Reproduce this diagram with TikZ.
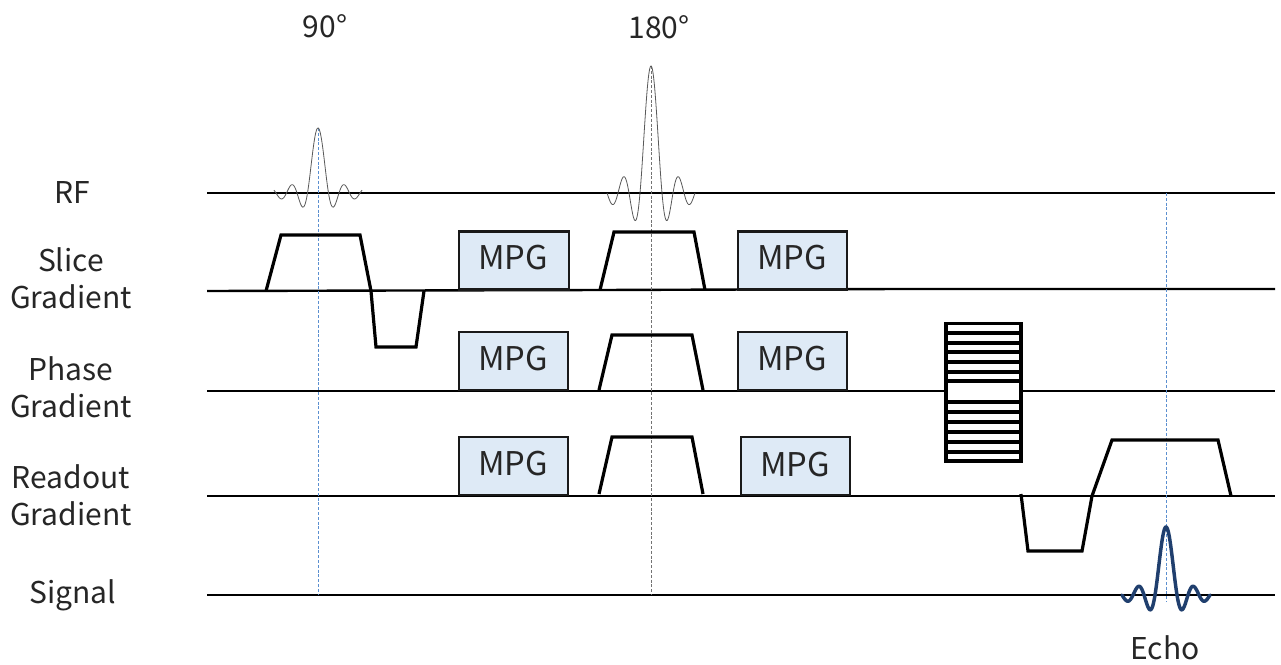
\documentclass[tikz,border=0pt]{standalone}
\usepackage{fontspec}
\setmainfont{Noto Sans CJK JP}
\begin{document}
\begin{tikzpicture}[x=0.75pt,y=-0.75pt,
  base/.style={line width=1.8pt,black},
  grad/.style={line width=2.4pt,black,line join=miter},
  mpgbox/.style={draw=black!90,line width=1.7pt,fill=mpgblue,minimum width=82pt,minimum height=43.5pt,inner sep=0pt},
  mpgtext/.style={font=\fontsize{24.5}{26}\selectfont,inner sep=0pt,text=black!85},
  lab/.style={font=\fontsize{22.5}{24}\selectfont,inner sep=0pt,text=black!85},
  cen/.style={line width=0.6pt,dash pattern=on 2.2pt off 1.4pt},
  rfwave/.style={line width=0.6pt,black!65},
  ladder/.style={line width=2.4pt,black}]
\definecolor{mpgblue}{HTML}{DEEAF6}
\definecolor{cenblue}{HTML}{5B8FD0}
\definecolor{echoblue}{HTML}{203F6E}
\useasboundingbox (0,0) rectangle (1281,664);
\fill[white] (0,0) rectangle (1281,664);

% baselines
\draw[base] (207,193) -- (1275,193);
\draw[base] (207,291) -- (600,290) -- (898,289) -- (1275,289);
\draw[base] (207,391) -- (1275,391);
\draw[base] (207,496) -- (1275,496);
\draw[base] (207,595) -- (1275,595);

% centre lines
\draw[cen,cenblue] (318,128) -- (318,595);
\draw[cen,black!55] (651,66) -- (651,595);
\draw[cen,cenblue] (1166,193) -- (1166,602);

% RF pulses and echo
\draw[rfwave,domain=-44:44,samples=178,smooth,variable=\t]
  plot ({318+\t},{193-65*sin(\t/10.5*180)/(\t/10.5*pi)});
\draw[rfwave,domain=-44:44,samples=178,smooth,variable=\t]
  plot ({651+\t},{193-127*sin(\t/11*180)/(\t/11*pi)});
\draw[line width=2.6pt,echoblue,line cap=round,domain=-44:44,samples=178,smooth,variable=\t]
  plot ({1166+\t},{595-68*sin(\t/11*180)/(\t/11*pi)});

% gradients
\draw[grad] (266,291) -- (281,235) -- (360,235) -- (371,291) -- (376,347) -- (416,347) -- (424,291);
\draw[grad] (600,290) -- (614,232) -- (694,232) -- (705,290);
\draw[grad] (599,390) -- (612,335) -- (692,335) -- (703,390);
\draw[grad] (599,494) -- (612,437) -- (692,437) -- (703,494);
\draw[grad] (1021,494) -- (1028,551) -- (1082,551) -- (1092,496) -- (1112,440) -- (1218,440) -- (1231,496);

% phase-encoding ladder
\draw[ladder,fill=white] (946,323.5) rectangle (1021,461);
\foreach \yy in {333,343,352,362,372,381,402,412,422,432,442,452}
  \draw[ladder] (946,\yy) -- (1021,\yy);

% MPG boxes
\node[mpgbox] (m1) at (514,260.5) {};
\node[mpgbox] (m2) at (792.5,260.5) {};
\node[mpgbox] (m3) at (513.5,361) {};
\node[mpgbox] (m4) at (792.5,361) {};
\node[mpgbox] (m5) at (513.5,466) {};
\node[mpgbox] (m6) at (795.5,466) {};
\node[mpgtext] (mt1) at (513,258) {MPG};
\node[mpgtext] (mt2) at (792,258) {MPG};
\node[mpgtext] (mt3) at (513,359) {MPG};
\node[mpgtext] (mt4) at (792,359) {MPG};
\node[mpgtext] (mt5) at (513,464) {MPG};
\node[mpgtext] (mt6) at (795,465) {MPG};

% labels
\node[lab] (t90) at (325,26) {90°};
\node[lab] (t180) at (659,27) {180°};
\node[lab] (rf) at (72,193) {RF};
\node[lab] (sl) at (71,260) {Slice};
\node[lab] (sg) at (71,297) {Gradient};
\node[lab] (ph) at (71,369) {Phase};
\node[lab] (pg) at (71,406) {Gradient};
\node[lab] (ro) at (71,477) {Readout};
\node[lab] (rg) at (71,514) {Gradient};
\node[lab] (si) at (73,595) {Signal};
\node[lab] (ec) at (1165,648) {Echo};
\end{tikzpicture}
\end{document}
